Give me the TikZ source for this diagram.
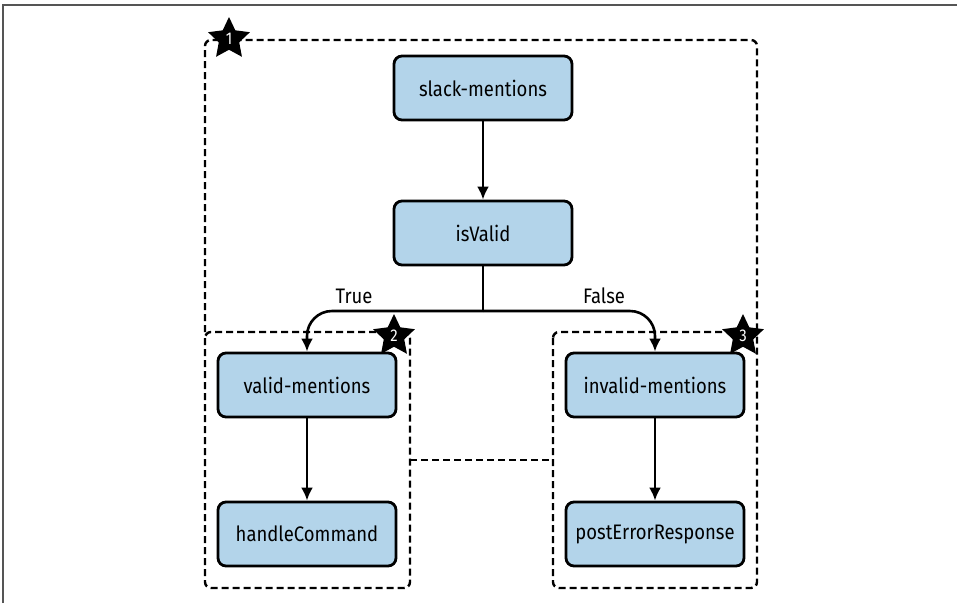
\documentclass[tikz,border=0pt]{standalone}
\usepackage{fontspec}
\setmainfont[FakeStretch=0.88]{Fira Sans}
\usepackage{tikz}
\usetikzlibrary{positioning,shapes.geometric,arrows.meta}
\definecolor{boxblue}{HTML}{B3D4EA}
\definecolor{framegray}{HTML}{555555}

\begin{document}
\begin{tikzpicture}[x=1pt,y=-1pt,
    block/.style={draw=black, line width=2.8pt, fill=boxblue, rounded corners=8pt,
        minimum width=178pt, minimum height=64pt, font=\fontsize{21}{24}\selectfont},
    flow/.style={line width=2.6pt, -{Latex[length=13pt,width=12pt]}},
    groupbox/.style={line width=2.4pt, dash pattern=on 7pt off 4pt, rounded corners=6pt},
    badge/.style={star, star points=5, star point ratio=2.05, fill=black, inner sep=0pt,
        minimum size=44pt, text=white, font=\fontsize{17}{17}\selectfont},
    tag/.style={font=\fontsize{21}{24}\selectfont}]
    \useasboundingbox (0,0) rectangle (957,603);
    \draw[framegray, line width=2pt] (3,603) -- (3,5) -- (957,5);

    % 分组框
    \draw[groupbox] (205,332) rectangle (410,588);
    \draw[groupbox] (553,332) rectangle (757,588);
    \draw[groupbox] (205,332) -- (205,40) -- (757,40) -- (757,332);
    \draw[groupbox] (410,460) -- (553,460);

    % 节点
    \node[block] (slack) at (483,88) {slack-mentions};
    \node[block] (isvalid) at (483,233) {isValid};
    \node[block] (valid) at (307,385) {valid-mentions};
    \node[block] (handle) at (307,534) {handleCommand};
    \node[block] (invalid) at (655,385) {invalid-mentions};
    \node[block] (posterr) at (655,534) {postErrorResponse};

    % 连线
    \coordinate (split) at (483,311);
    \draw[flow] (slack) -- (isvalid);
    \draw[line width=2.6pt] (isvalid) -- (split);
    \draw[flow, rounded corners=25pt] (split) -- (valid.north |- split) -- (valid);
    \draw[flow, rounded corners=25pt] (split) -- (invalid.north |- split) -- (invalid);
    \draw[flow] (valid) -- (handle);
    \draw[flow] (invalid) -- (posterr);
    \node[tag] (truelbl) at (354,296) {True};
    \node[tag] (falselbl) at (604,296) {False};

    % 星标
    \node[badge] (one) at (229,39) {1};
    \node[badge] (two) at (394,336) {2};
    \node[badge] (three) at (743,336) {3};
\end{tikzpicture}
\end{document}
